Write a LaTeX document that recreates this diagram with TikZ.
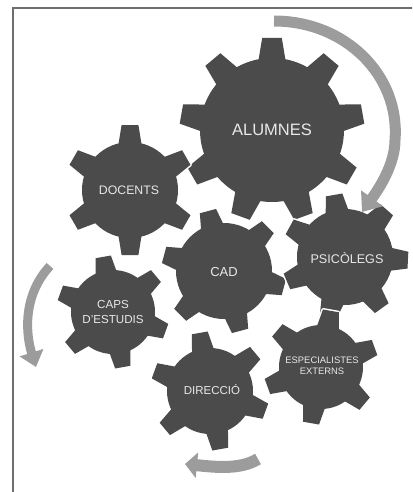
\documentclass[tikz,border=0pt]{standalone}
\usepackage{fontspec}
\setmainfont{Liberation Sans}
\usepackage{tikz}
\usetikzlibrary{arrows.meta}

\definecolor{gearGray}{HTML}{4B4B4B}
\definecolor{arrowGray}{HTML}{9C9C9C}
\definecolor{labelGray}{HTML}{E8E8E8}
\definecolor{frameGray}{HTML}{6E6E6E}

\begin{document}
\begin{tikzpicture}[
    x=1pt, y=1pt,
    gearlabel/.style={text=labelGray, align=center, inner sep=0pt},
    gearhalo/.style={fill=white, draw=white, line width=3pt, line join=round},
    gearbody/.style={fill=gearGray},
    cyclearrow/.style={draw=arrowGray, line width=11pt, -{Triangle[width=26pt,length=17pt]}},
    pics/gear/.style n args={5}{code={
        % white halo first, then the body
        \foreach \look in {gearhalo,gearbody} {
            \path[\look] (0,0) circle (#2);
            \foreach \k in {1,...,#1}
                \path[\look, rotate={#4+(\k-1)*360/#1}]
                    (#2-5,-#5) -- (#3,-0.7*#5) -- (#3,0.7*#5) -- (#2-5,#5) -- cycle;
        }
    }}
]

% Page and frame
\useasboundingbox (0,0) rectangle (412,-492);
\clip (0,0) rectangle (412,-492);
\draw[frameGray, line width=1.6pt] (13,-8) rectangle (430,-510);

% Gears
\pic at (272,-130) {gear={9}{72}{92}{90}{14}};
\pic at (130,-190) {gear={6}{48}{65}{90}{12}};
\pic at (224,-271) {gear={6}{48}{62}{105}{12}};
\pic at (345,-257) {gear={7}{48}{63}{100}{12}};
\pic at (113,-312) {gear={6}{42}{56}{100}{11}};
\pic at (210,-391) {gear={6}{43}{59}{100}{11.5}};
\pic at (321,-367) {gear={6}{42}{57}{80}{11.5}};

% Gear labels
\node[gearlabel, font=\fontsize{16.5}{18}\selectfont] (alumnes) at (272,-130) {ALUMNES};
\node[gearlabel, font=\fontsize{12.3}{14}\selectfont] (docents) at (129,-190) {DOCENTS};
\node[gearlabel, font=\fontsize{13}{15}\selectfont] (cad) at (224,-272) {CAD};
\node[gearlabel, font=\fontsize{12.6}{14}\selectfont] (psicolegs) at (347,-258) {PSICÒLEGS};
\node[gearlabel, font=\fontsize{11.6}{15}\selectfont] (caps) at (113,-312) {CAPS\\D'ESTUDIS};
\node[gearlabel, font=\fontsize{11.5}{13}\selectfont] (direccio) at (212,-390) {DIRECCIÓ};
\node[gearlabel, font=\fontsize{9.4}{11}\selectfont] (especialistes) at (322,-366) {ESPECIALISTES\\EXTERNS};

% Cycle arrows
\coordinate (topstart) at (274,-21);
\coordinate (topside) at (395,-140);
\coordinate (toptip) at (362,-212);
\draw[cyclearrow] (topstart) .. controls (345,-21) and (400,-75) .. (topside)
    .. controls (395,-165) and (378,-190) .. (toptip);

\coordinate (leftstart) at (50,-266);
\coordinate (lefttip) at (36,-367);
\draw[cyclearrow, line width=9pt, -{Triangle[width=24pt,length=15pt]}]
    (leftstart) .. controls (22,-296) and (26,-335) .. (lefttip);

\coordinate (bottomstart) at (258,-459);
\coordinate (bottomtip) at (185,-464);
\draw[cyclearrow, line width=12pt, -{Triangle[width=25pt,length=12pt]}]
    (bottomstart) .. controls (240,-470) and (215,-467) .. (bottomtip);

\end{tikzpicture}
\end{document}
